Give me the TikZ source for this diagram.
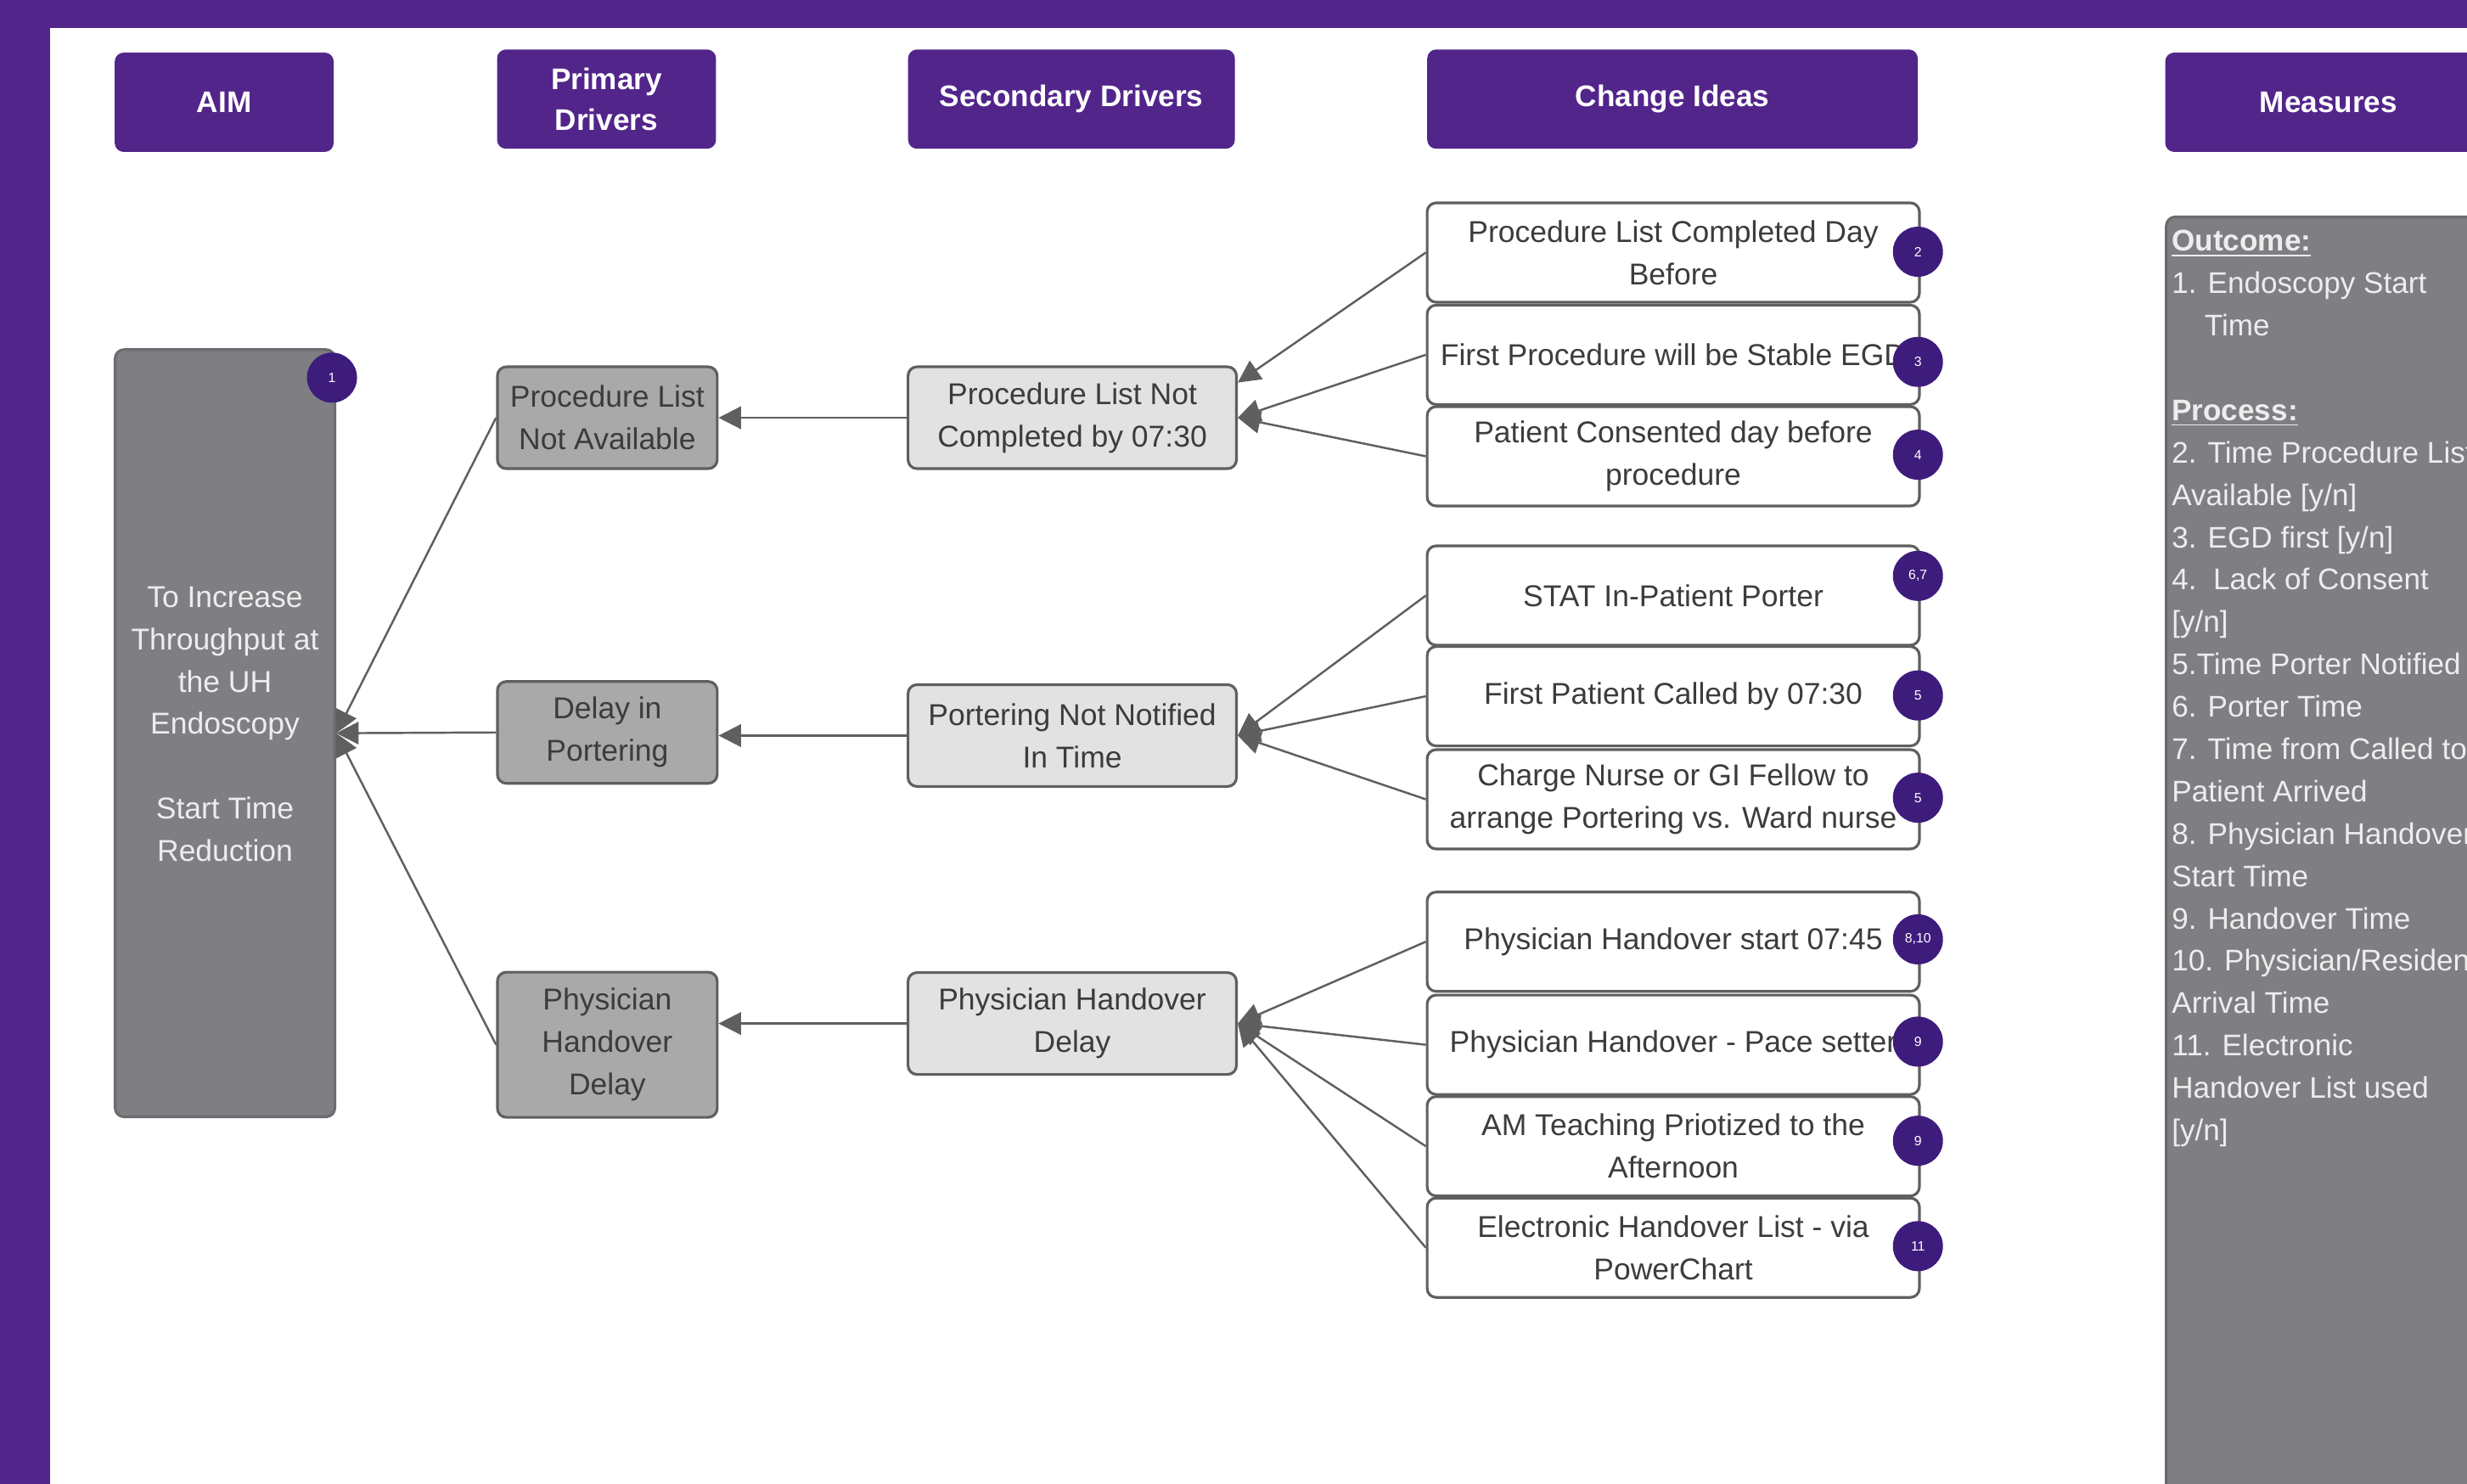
\documentclass[tikz,border=0pt]{standalone}
\usepackage{fontspec}
\setmainfont{Liberation Sans}
\usetikzlibrary{arrows.meta,positioning}

\definecolor{uhpurple}{HTML}{52258A}
\definecolor{badgepurple}{HTML}{3E1C7C}
\definecolor{aimgray}{HTML}{7F7E83}
\definecolor{pdgray}{HTML}{A9A9AA}
\definecolor{sdgray}{HTML}{E2E2E2}
\definecolor{edgegray}{HTML}{5F5F5F}
\definecolor{textgray}{HTML}{3C3C3C}
\definecolor{paletext}{HTML}{EDEDED}

\tikzset{
  header/.style={fill=uhpurple, rounded corners=3pt, text=white, align=center,
    font=\bfseries\fontsize{10}{13.5}\selectfont, minimum height=1.17cm},
  drvbox/.style={draw=edgegray, line width=0.9pt, rounded corners=3pt, text=textgray,
    align=center, inner sep=1pt, font=\fontsize{10.1}{14.2}\selectfont},
  primary/.style={drvbox, fill=pdgray, minimum width=2.59cm, minimum height=1.2cm},
  secondary/.style={drvbox, fill=sdgray, minimum width=3.87cm, minimum height=1.2cm},
  idea/.style={drvbox, fill=white, minimum width=5.8cm, minimum height=1.17cm},
  badge/.style={circle, fill=badgepurple, text=white, minimum size=0.59cm, inner sep=0pt,
    font=\fontsize{4.5}{5}\selectfont},
  link/.style={draw=edgegray, line width=0.7pt, -{Triangle[length=7.5pt,width=7.5pt]}}
}

\begin{document}
\begin{tikzpicture}[x=0.018533cm,y=-0.018533cm]
\useasboundingbox (0,0) rectangle (1568,943);
\fill[uhpurple] (0,0) rectangle (1568,943);
\fill[white] (32,18) rectangle (1568,943);

% column headers
\node[header, minimum width=2.58cm] (hAim) at (142.5,65) {AIM};
\node[header, minimum width=2.58cm] (hPrim) at (385.5,63) {Primary\\Drivers};
\node[header, minimum width=3.85cm] (hSec) at (681,63) {Secondary Drivers};
\node[header, minimum width=5.78cm] (hIdea) at (1063,63) {Change Ideas};
\node[header, minimum width=3.85cm] (hMeas) at (1480,65) {Measures};

% aim
\node[drvbox, fill=aimgray, draw=aimgray!85!black, text=paletext, minimum width=2.59cm,
  minimum height=9.04cm] (aim) at (143,466)
  {To Increase\\Throughput at\\the UH\\Endoscopy\\[14.2pt]Start Time\\Reduction\\[-8pt]};
\node[badge] (b0) at (211,240) {1};

% measures
\node[drvbox, fill=aimgray, draw=aimgray!85!black, anchor=north west, minimum width=4.3cm,
  minimum height=15.6cm] (measures) at (1376,137) {};
\node[anchor=north west, align=left, inner sep=0pt, text=paletext,
  font=\fontsize{10}{14.2}\selectfont] (mtext) at (1380,146)
  {\underline{\textbf{Outcome:}}\\
   1. Endoscopy Start\\
   \hspace*{1.1em}Time\\[14.2pt]
   \underline{\textbf{Process:}}\\
   2. Time Procedure List\\
   Available [y/n]\\
   3. EGD first [y/n]\\
   4.\ \ Lack of Consent\\
   {[}y/n]\\
   5.Time Porter Notified\\
   6. Porter Time\\
   7. Time from Called to\\
   Patient Arrived\\
   8. Physician Handover\\
   Start Time\\
   9. Handover Time\\
   10. Physician/Resident\\
   Arrival Time\\
   11. Electronic\\
   Handover List used\\
   {[}y/n]};

% primary drivers
\node[primary] (pd1) at (386,265.5) {Procedure List\\Not Available};
\node[primary] (pd2) at (386,465.5) {Delay in\\Portering};
\node[primary, minimum height=1.71cm] (pd3) at (386,664) {Physician\\Handover\\Delay};

% secondary drivers
\node[secondary] (sd1) at (681.5,265.5) {Procedure List Not\\Completed by 07:30};
\node[secondary] (sd2) at (681.5,467.5) {Portering Not Notified\\In Time};
\node[secondary] (sd3) at (681.5,650.5) {Physician Handover\\Delay};

% change ideas
\foreach \n/\y/\txt in {
  1/160.5/{Procedure List Completed Day\\Before},
  2/225.5/{First Procedure will be Stable EGD},
  3/290/{Patient Consented day before\\procedure},
  4/378.5/{STAT In-Patient Porter},
  5/442.5/{First Patient Called by 07:30},
  6/508/{Charge Nurse or GI Fellow to\\arrange Portering vs. Ward nurse},
  7/598.5/{Physician Handover start 07:45},
  8/664/{Physician Handover - Pace setter},
  9/728.5/{AM Teaching Priotized to the\\Afternoon},
  10/793/{Electronic Handover List - via\\PowerChart}}
  \node[idea] (ci\n) at (1063.5,\y) {\txt};

\foreach \n/\y/\num in {1/160/2, 2/230/3, 3/289/4, 4/366/{6,7}, 5/442/5,
  6/507/5, 7/597/{8,10}, 8/662/9, 9/725/9, 10/792/11}
  \node[badge] (b\n) at (1219,\y) {\num};

% connectors
\draw[link] (ci1.west) -- (sd1.12);
\foreach \n in {2,3}
  \draw[link] (ci\n.west) -- (sd1.east);
\foreach \n in {4,5,6}
  \draw[link] (ci\n.west) -- (sd2.east);
\foreach \n in {7,...,10}
  \draw[link] (ci\n.west) -- (sd3.east);
\foreach \n in {1,2,3}
{
  \draw[link] (sd\n.west) -- (sd\n.west -| pd\n.east);
  \draw[link] (pd\n.west) -- (aim.east);
}
\end{tikzpicture}
\end{document}
